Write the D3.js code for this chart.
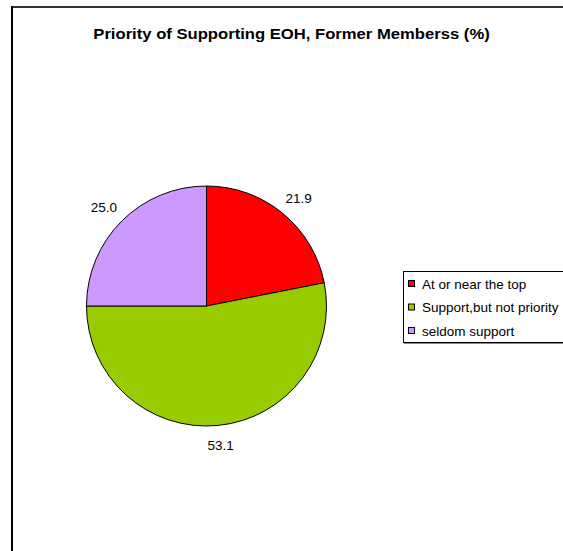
<!DOCTYPE html>
<html>
<head>
<meta charset="utf-8">
<script src="https://cdn.jsdelivr.net/npm/d3@7"></script>
<style>
  html, body { margin: 0; padding: 0; background: #fff; }
  svg { display: block; }
</style>
</head>
<body>
<svg id="chart" width="563" height="551"></svg>
<script>
// Survey shares, in percent
const categories = ["At or near the top", "Support,but not priority", "seldom support"];
const values = [21.9, 53.1, 25.0];
const colors = ["#FF0000", "#99CC00", "#CC99FF"];
const title = "Priority of Supporting EOH, Former Memberss (%)";

const svg = d3.select("#chart");
const font = "Arial, 'Liberation Sans', Helvetica, sans-serif";

// Outer chart frame (runs off the right and bottom edges)
svg.append("line").attr("x1", 12).attr("y1", 7).attr("x2", 563).attr("y2", 7)
  .attr("stroke", "#333").attr("stroke-width", 2);
svg.append("line").attr("x1", 12).attr("y1", 6).attr("x2", 12).attr("y2", 551)
  .attr("stroke", "#000").attr("stroke-width", 2);

// Title, slightly widened
svg.append("text")
  .attr("transform", "translate(291.5,39) scale(1.11,1)")
  .attr("text-anchor", "middle")
  .attr("font-family", font).attr("font-weight", "bold").attr("font-size", 15)
  .attr("fill", "#000")
  .text(title);

// Pie, clockwise from 12 o'clock
const cx = 206.5, cy = 306, r = 120;
const pie = d3.pie().sort(null).value(d => d)(values);
const arc = d3.arc().innerRadius(0).outerRadius(r);
const color = d3.scaleOrdinal().domain(categories).range(colors);

const g = svg.append("g").attr("transform", `translate(${cx},${cy})`);
g.selectAll("path.slice").data(pie).join("path")
  .attr("class", "slice")
  .attr("d", arc)
  .attr("fill", (d, i) => color(categories[i]))
  .attr("stroke", "#000").attr("stroke-width", 1);

// Value labels sit just outside the rim; the label box is pushed out
// further horizontally than vertically since it is wider than tall.
const labelR = 131, padX = 14, padY = 9;
function labelPos(d) {
  const a = (d.startAngle + d.endAngle) / 2;
  return [Math.sin(a) * (labelR + padX), -Math.cos(a) * (labelR + padY)];
}
g.selectAll("text.val").data(pie).join("text")
  .attr("class", "val")
  .attr("transform", d => `translate(${labelPos(d)})`)
  .attr("text-anchor", "middle")
  .attr("dy", "0.35em")
  .attr("font-family", font).attr("font-size", 13.5)
  .attr("fill", "#000")
  .text(d => d.data.toFixed(1));

// Legend
const lg = svg.append("g");
lg.append("rect").attr("x", 403.5).attr("y", 271.5).attr("width", 170).attr("height", 71)
  .attr("fill", "#fff").attr("stroke", "#000").attr("stroke-width", 1);
lg.append("line").attr("x1", 404).attr("y1", 343.5).attr("x2", 563).attr("y2", 343.5)
  .attr("stroke", "#888").attr("stroke-width", 1);
const rowY = d3.scalePoint().domain(categories).range([284, 331]);
const items = lg.selectAll("g.item").data(categories).join("g").attr("class", "item")
  .attr("transform", d => `translate(0,${rowY(d)})`);
items.append("rect")
  .attr("x", 408.5).attr("y", -3.5).attr("width", 6).attr("height", 6)
  .attr("fill", d => color(d)).attr("stroke", "#000").attr("stroke-width", 1);
items.append("text")
  .attr("x", 422).attr("y", 0).attr("dy", "0.35em")
  .attr("font-family", font).attr("font-size", 13.5)
  .attr("fill", "#000")
  .text(d => d);
</script>
</body>
</html>
